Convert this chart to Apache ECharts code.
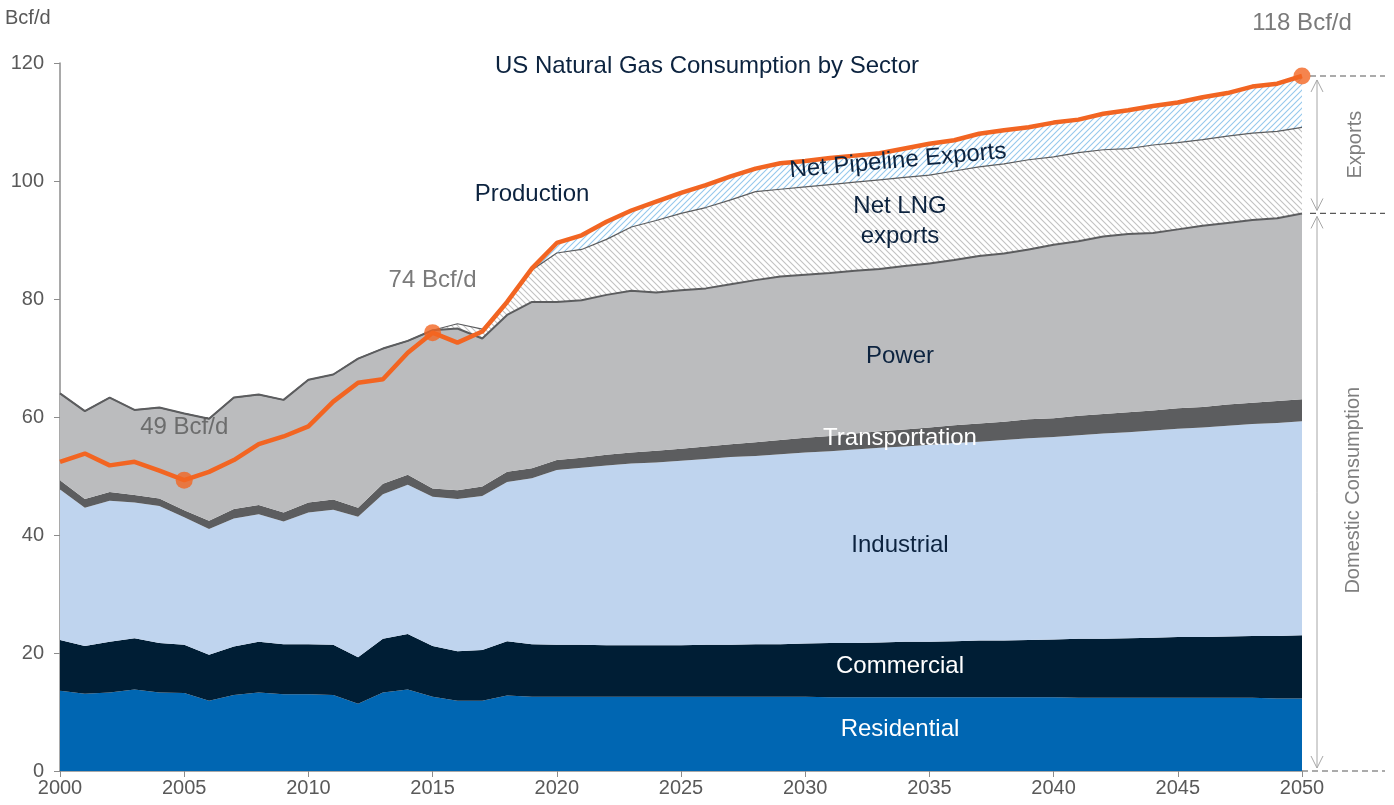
<!DOCTYPE html>
<html>
<head>
<meta charset="utf-8">
<title>US Natural Gas Consumption by Sector</title>
<script src="https://cdn.jsdelivr.net/npm/echarts@6/dist/echarts.min.js"></script>
<style>
  html, body { margin: 0; padding: 0; background: #fff; }
  #chart { width: 1394px; height: 805px; }
</style>
</head>
<body>
<div id="chart"></div>
<script>
// years on the x axis
var years = ["2000","2001","2002","2003","2004","2005","2006","2007","2008","2009",
  "2010","2011","2012","2013","2014","2015","2016","2017","2018","2019",
  "2020","2021","2022","2023","2024","2025","2026","2027","2028","2029",
  "2030","2031","2032","2033","2034","2035","2036","2037","2038","2039",
  "2040","2041","2042","2043","2044","2045","2046","2047","2048","2049","2050"];

// Bcf/d by sector (stacked, bottom to top)
var residential = [13.6,13.1,13.3,13.8,13.3,13.2,11.9,12.9,13.3,13.0,
  13.0,12.9,11.4,13.3,13.8,12.6,11.9,11.9,12.8,12.6,
  12.6,12.6,12.6,12.6,12.6,12.6,12.6,12.6,12.6,12.6,
  12.6,12.5,12.5,12.5,12.5,12.5,12.5,12.5,12.5,12.5,
  12.5,12.4,12.4,12.4,12.4,12.4,12.4,12.4,12.4,12.3,12.3];
var commercial = [8.6,8.1,8.6,8.7,8.4,8.2,7.8,8.2,8.6,8.5,
  8.5,8.5,7.9,9.1,9.4,8.6,8.4,8.6,9.2,8.9,
  8.8,8.8,8.7,8.7,8.7,8.7,8.8,8.8,8.9,8.9,
  9.0,9.2,9.2,9.3,9.4,9.4,9.5,9.6,9.6,9.7,
  9.8,10.0,10.0,10.1,10.2,10.3,10.3,10.4,10.5,10.6,10.7];
var industrial = [25.5,23.4,23.9,23.0,23.2,21.6,21.3,21.7,21.6,20.8,
  22.3,22.9,23.8,24.5,25.3,25.3,25.8,26.1,27.0,28.1,
  29.6,30.0,30.5,30.8,31.0,31.3,31.5,31.8,31.9,32.2,
  32.4,32.5,32.8,33.0,33.1,33.4,33.6,33.7,34.0,34.2,
  34.3,34.5,34.8,34.9,35.1,35.3,35.5,35.7,35.9,36.1,36.3];
var transportation = [1.6,1.5,1.5,1.3,1.3,1.2,1.4,1.6,1.6,1.5,
  1.7,1.7,1.5,1.8,1.7,1.4,1.5,1.6,1.7,1.7,
  1.7,1.7,1.8,1.9,2.0,2.0,2.1,2.2,2.3,2.4,
  2.5,2.6,2.7,2.8,2.9,2.9,3.0,3.1,3.1,3.2,
  3.2,3.3,3.3,3.4,3.4,3.5,3.5,3.6,3.6,3.7,3.7];
var power = [14.7,14.9,16.0,14.4,15.4,16.4,17.3,18.9,18.7,19.1,
  20.8,21.2,25.3,22.9,22.7,26.8,27.4,25.1,26.6,28.2,
  26.8,26.7,27.1,27.4,26.8,26.9,26.8,27.1,27.5,27.7,
  27.6,27.6,27.6,27.5,27.7,27.8,28.0,28.4,28.5,28.8,
  29.4,29.6,30.1,30.2,30.1,30.3,30.7,30.8,31.0,31.0,31.5];
var lngExports = [0,0,0,0,0,0,0,0,0,0,
  0,0,0,0,0,0,0.8,1.6,2.0,5.4,
  8.3,8.6,9.4,10.8,12.2,13.0,13.7,14.3,15.0,14.8,
  14.9,15.0,15.0,15.1,15.0,15.0,15.1,15.1,15.2,15.2,
  14.9,15.0,14.7,14.5,14.9,14.7,14.6,14.7,14.7,14.7,14.6];
var pipelineExports = [0,0,0,0,0,0,0,0,0,0,
  0,0,0,0,0,0,0,0,0.2,0.3,
  1.7,2.4,3.0,2.8,3.2,3.5,3.8,4.0,3.9,4.4,
  4.4,4.5,4.5,4.5,4.9,5.3,5.2,5.6,5.7,5.5,
  5.8,5.6,6.1,6.5,6.6,6.8,7.2,7.3,7.9,8.1,8.7];
var production = [52.4,53.8,51.8,52.4,50.9,49.3,50.7,52.7,55.4,56.7,
  58.4,62.6,65.8,66.4,70.9,74.3,72.6,74.5,79.5,85.2,
  89.5,90.8,93.1,95.0,96.5,98.0,99.3,100.8,102.1,103.0,
  103.4,103.9,104.3,104.7,105.5,106.3,106.9,108.0,108.6,109.1,
  109.9,110.4,111.4,112.0,112.7,113.3,114.2,114.9,116.0,116.5,117.8];

var markerYears = ["2005", "2015", "2050"];
var markerLabels = ["49 Bcf/d", "74 Bcf/d", "118 Bcf/d"];
var yTicks = [0, 20, 40, 60, 80, 100, 120];

var FONT = "Liberation Sans, Arial, sans-serif";
var NAVY = "#0c233f";
var GREY_TXT = "#595959";

function hatch(lineColor, dir) {
  var c = document.createElement("canvas");
  c.width = 6; c.height = 6;
  var g = c.getContext("2d");
  g.fillStyle = "#fff";
  g.fillRect(0, 0, 6, 6);
  g.strokeStyle = lineColor;
  g.lineWidth = 1.1;
  g.beginPath();
  if (dir === "down") {
    g.moveTo(-1, -1); g.lineTo(7, 7);
    g.moveTo(-1, 5); g.lineTo(1, 7);
    g.moveTo(5, -1); g.lineTo(7, 1);
  } else {
    g.moveTo(-1, 7); g.lineTo(7, -1);
    g.moveTo(-1, 1); g.lineTo(1, -1);
    g.moveTo(5, 7); g.lineTo(7, 5);
  }
  g.stroke();
  return { image: c, repeat: "repeat" };
}

function area(name, data, color, line) {
  return {
    name: name,
    type: "line",
    stack: "total",
    data: data,
    symbol: "none",
    silent: true,
    areaStyle: { color: color, opacity: 1 },
    lineStyle: line || { width: 0 },
    z: 2
  };
}

var markerData = markerYears.map(function (y, i) {
  return {
    value: [y, production[years.indexOf(y)]],
    label: { formatter: markerLabels[i] }
  };
});

var chart = echarts.init(document.getElementById("chart"));
chart.setOption({
  animation: false,
  title: {
    text: "US Natural Gas Consumption by Sector",
    left: 702, top: 49, textAlign: "center",
    textStyle: { color: NAVY, fontSize: 24, fontWeight: "normal", fontFamily: FONT }
  },
  grid: { left: 60, right: 92, top: 63, bottom: 34 },
  xAxis: {
    type: "category",
    data: years,
    boundaryGap: false,
    axisLine: { lineStyle: { color: "#8c8c8c", width: 1.5 } },
    axisTick: { interval: 4, length: 6, lineStyle: { color: "#8c8c8c" } },
    axisLabel: { interval: 4, color: GREY_TXT, fontSize: 20, fontFamily: FONT, margin: 7 },
    splitLine: { show: false }
  },
  yAxis: {
    type: "value",
    min: yTicks[0], max: yTicks[yTicks.length - 1], interval: 20,
    axisLine: { show: true, lineStyle: { color: "#8c8c8c", width: 1.5 } },
    axisTick: { show: true, length: 6, lineStyle: { color: "#8c8c8c" } },
    axisLabel: { color: GREY_TXT, fontSize: 20, fontFamily: FONT, margin: 16 },
    splitLine: { show: false }
  },
  series: [
    area("Residential", residential, "#0066b2"),
    area("Commercial", commercial, "#001e35"),
    area("Industrial", industrial, "#bfd4ee"),
    area("Transportation", transportation, "#5c5d5f"),
    area("Power", power, "#bbbcbe", { width: 2, color: "#5c5d5f" }),
    area("Net LNG exports", lngExports, hatch("#c2c2c2", "down"), { width: 1.2, color: "#5c5d5f" }),
    area("Net Pipeline Exports", pipelineExports, hatch("#96c8ec", "up"), { width: 0 }),
    {
      name: "Production",
      type: "line",
      data: production,
      symbol: "none",
      silent: true,
      lineStyle: { color: "#f26522", width: 4.5 },
      z: 5
    },
    {
      name: "Production markers",
      type: "scatter",
      data: markerData,
      symbol: "circle",
      symbolSize: 17,
      itemStyle: { color: "#f26522" },
      label: {
        show: true, position: "top", distance: 32,
        color: GREY_TXT, fontSize: 24, fontFamily: FONT
      },
      silent: true,
      z: 6
    }
  ]
});

// annotations around the plot
var n = years.length - 1;
var domestic2050 = residential[n] + commercial[n] + industrial[n] + transportation[n] + power[n];
var xEnd = chart.convertToPixel({ xAxisIndex: 0 }, years[n]);
var yTop = chart.convertToPixel({ yAxisIndex: 0 }, production[n]);
var yDom = chart.convertToPixel({ yAxisIndex: 0 }, domestic2050);
var yZero = chart.convertToPixel({ yAxisIndex: 0 }, 0);
var ax = xEnd + 15;
var arrowStyle = { stroke: "#a6a6a6", lineWidth: 1, fill: null };
var dashStyle = { stroke: "#595959", lineWidth: 1.2, lineDash: [6, 4] };

function label(text, x, y, color, rot) {
  return {
    type: "text", x: x, y: y, rotation: rot || 0, silent: true, z: 20,
    style: { text: text, fill: color, font: "24px " + FONT, textAlign: "center", textVerticalAlign: "middle" }
  };
}
function arrowHead(y, up) {
  var d = up ? 12 : -12;
  return { type: "polyline", silent: true, shape: { points: [[ax - 6, y + d], [ax, y], [ax + 6, y + d]] }, style: arrowStyle };
}

chart.setOption({
  graphic: [
    { type: "text", x: 5, y: 18, silent: true,
      style: { text: "Bcf/d", fill: GREY_TXT, font: "20px " + FONT, textVerticalAlign: "middle" } },
    label("Production", 532, 194, NAVY),
    label("Net Pipeline Exports", 898, 161, NAVY, 0.09),
    label("Net LNG", 900, 206, NAVY),
    label("exports", 900, 236, NAVY),
    label("Power", 900, 356, NAVY),
    label("Transportation", 900, 438, "#ffffff"),
    label("Industrial", 900, 545, NAVY),
    label("Commercial", 900, 666, "#ffffff"),
    label("Residential", 900, 729, "#ffffff"),
    { type: "line", silent: true, shape: { x1: xEnd + 8, y1: yTop, x2: 1385, y2: yTop }, style: dashStyle },
    { type: "line", silent: true, shape: { x1: xEnd + 8, y1: yDom, x2: 1385, y2: yDom }, style: dashStyle },
    { type: "line", silent: true, shape: { x1: xEnd, y1: yZero, x2: 1385, y2: yZero }, style: dashStyle },
    { type: "line", silent: true, shape: { x1: ax, y1: yTop + 4, x2: ax, y2: yDom - 3 }, style: arrowStyle },
    arrowHead(yTop + 4, true),
    arrowHead(yDom - 3, false),
    { type: "line", silent: true, shape: { x1: ax, y1: yDom + 3, x2: ax, y2: yZero - 3 }, style: arrowStyle },
    arrowHead(yDom + 3, true),
    arrowHead(yZero - 3, false),
    {
      type: "text", x: xEnd + 53, y: (yTop + yDom) / 2, rotation: Math.PI / 2, silent: true,
      style: { text: "Exports", fill: "#7f7f7f", font: "20px " + FONT, textAlign: "center", textVerticalAlign: "middle" }
    },
    {
      type: "text", x: xEnd + 51, y: (yDom + yZero) / 2 - 2, rotation: Math.PI / 2, silent: true,
      style: { text: "Domestic Consumption", fill: "#7f7f7f", font: "20px " + FONT, textAlign: "center", textVerticalAlign: "middle" }
    }
  ]
});
</script>
</body>
</html>
